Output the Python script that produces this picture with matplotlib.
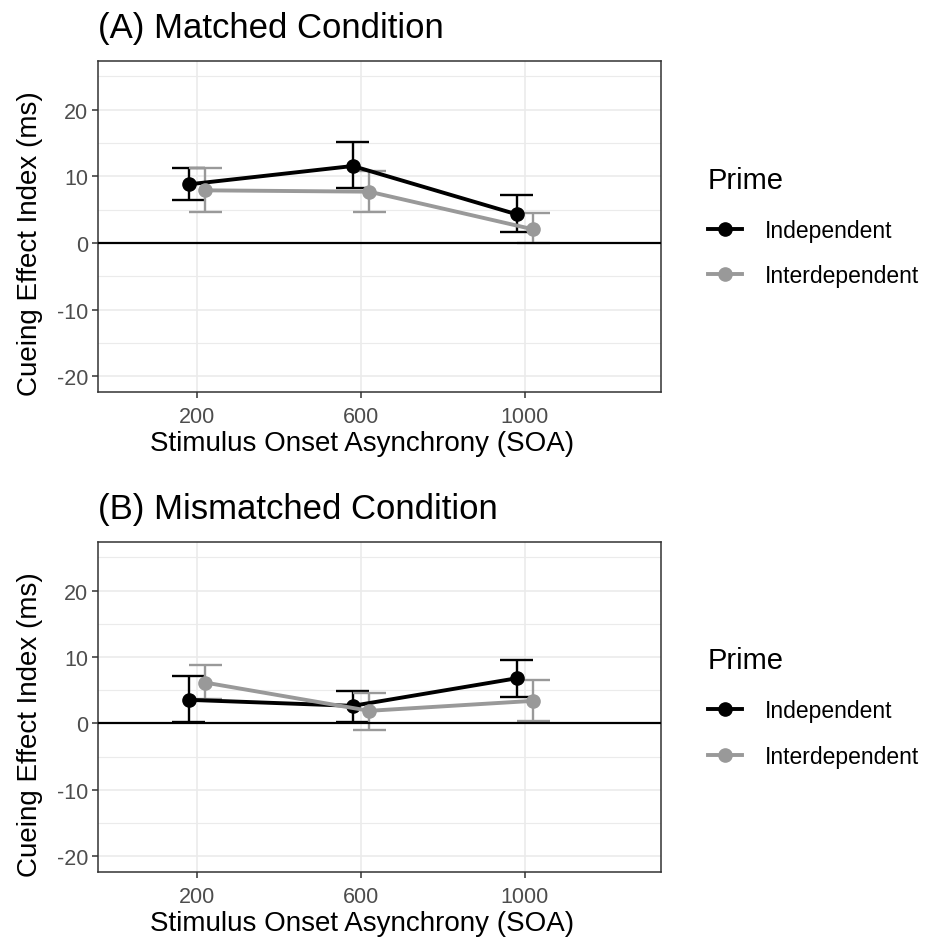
import matplotlib
matplotlib.use("Agg")
import matplotlib.pyplot as plt
from matplotlib.lines import Line2D
import numpy as np

plt.rcParams['font.family'] = ['Liberation Sans', 'DejaVu Sans']
plt.rcParams['axes.unicode_minus'] = False

soa_labels = ["200", "600", "1000"]
primes = ["Independent", "Interdependent"]
colors = {"Independent": "#000000", "Interdependent": "#999999"}

# Panel A: Matched
a_ind_mean = [8.8, 11.55, 4.3]
a_ind_low = [6.45, 8.2, 1.6]
a_ind_high = [11.3, 15.15, 7.15]
a_int_mean = [7.9, 7.7, 2.05]
a_int_low = [4.7, 4.6, 0.0]
a_int_high = [11.2, 10.8, 4.45]

# Panel B: Mismatched
b_ind_mean = [3.55, 2.65, 6.8]
b_ind_low = [0.15, 0.25, 4.0]
b_ind_high = [7.15, 4.9, 9.55]
b_int_mean = [6.15, 1.9, 3.4]
b_int_low = [3.65, -1.0, 0.4]
b_int_high = [8.8, 4.65, 6.6]

panels = [
    ("(A) Matched Condition",
     {"Independent": (a_ind_mean, a_ind_low, a_ind_high),
      "Interdependent": (a_int_mean, a_int_low, a_int_high)}),
    ("(B) Mismatched Condition",
     {"Independent": (b_ind_mean, b_ind_low, b_ind_high),
      "Interdependent": (b_int_mean, b_int_low, b_int_high)}),
]

W, H = 936, 945
fig = plt.figure(figsize=(W / 100, H / 100), dpi=100)

boxes = [(98, 62, 661, 393), (98, 543, 661, 873)]
dodge = {"Independent": -0.05, "Interdependent": 0.05}

for (title, data), (l, t, r, b) in zip(panels, boxes):
    ax = fig.add_axes([l / W, 1 - b / H, (r - l) / W, (b - t) / H])
    x = np.arange(1, len(soa_labels) + 1)
    for p in primes:
        m, lo, hi = data[p]
        m = np.array(m); lo = np.array(lo); hi = np.array(hi)
        xs = x + dodge[p]
        ax.errorbar(xs, m, yerr=[m - lo, hi - m], fmt='none', ecolor=colors[p],
                    elinewidth=1.7, capsize=0, zorder=3)
        for xi, l_, h_ in zip(xs, lo, hi):
            ax.plot([xi - 0.1, xi + 0.1], [l_, l_], color=colors[p], lw=1.7, zorder=3,
                    solid_capstyle='butt')
            ax.plot([xi - 0.1, xi + 0.1], [h_, h_], color=colors[p], lw=1.7, zorder=3,
                    solid_capstyle='butt')
        ax.plot(xs, m, color=colors[p], lw=2.8, marker='o', markersize=9.5,
                zorder=4)
    ax.axhline(0, color='black', lw=1.6, zorder=5)
    ax.set_xlim(0.396, 3.83)
    ax.set_ylim(-22.35, 27.3)
    ax.set_xticks(x)
    ax.set_xticklabels(soa_labels)
    ax.set_yticks([-20, -10, 0, 10, 20])
    ax.set_yticks([-15, -5, 5, 15, 25], minor=True)
    ax.grid(True, which='major', color='#EBEBEB', lw=1.2, zorder=0)
    ax.grid(True, which='minor', axis='y', color='#EBEBEB', lw=0.8, zorder=0)
    ax.set_axisbelow(True)
    ax.tick_params(axis='both', which='major', labelsize=15.5, labelcolor='#4D4D4D',
                   color='#333333', length=4, width=1.1)
    ax.tick_params(axis='x', which='major', pad=6)
    ax.tick_params(axis='y', which='major', pad=3)
    ax.tick_params(axis='y', which='minor', length=0)
    for s in ax.spines.values():
        s.set_color('#333333')
        s.set_linewidth(1.1)
    ax.set_xlabel("Stimulus Onset Asynchrony (SOA)", fontsize=20)
    ax.xaxis.set_label_coords(0.469, -0.115)
    ax.set_ylabel("Cueing Effect Index (ms)", fontsize=20)
    ax.yaxis.set_label_coords(-0.097, 0.45)
    ax.set_title(title, fontsize=25, loc='left', pad=17)
    handles = [Line2D([0], [0], color=colors[p], lw=2.8, marker='o', markersize=9.5)
               for p in primes]
    leg = ax.legend(handles, primes, title="Prime", loc='center left',
                    bbox_to_anchor=(1.067, 0.50), frameon=False, fontsize=16.5,
                    title_fontsize=21, handlelength=1.5, labelspacing=1.0,
                    handletextpad=1.0, borderaxespad=0)
    leg._legend_box.align = "left"
    leg._legend_box.sep = 18

fig.savefig("out.png", dpi=100, facecolor='white')
